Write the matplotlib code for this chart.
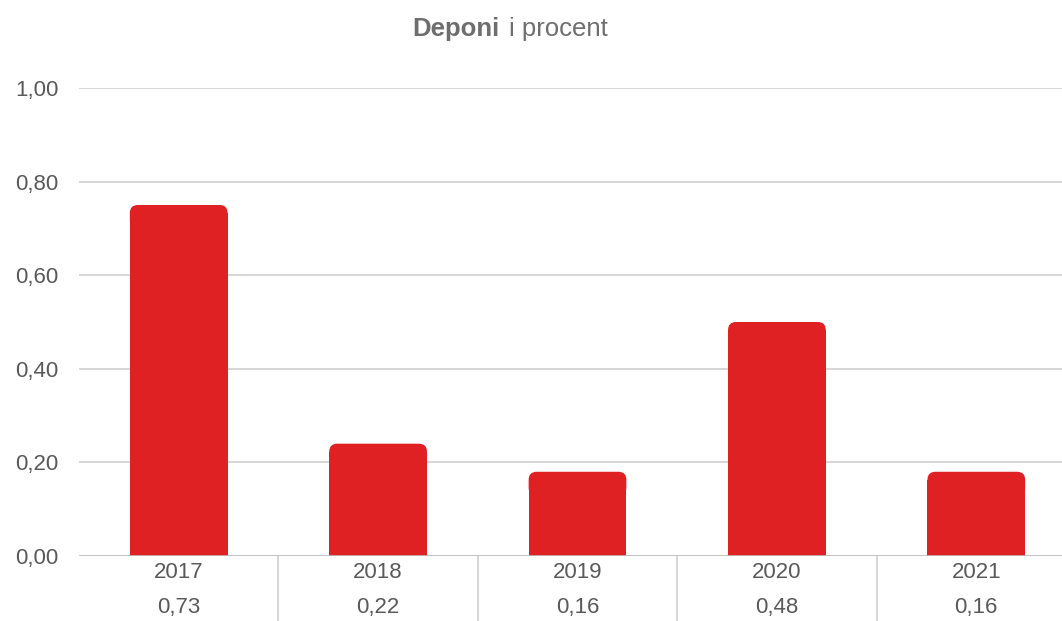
import matplotlib.pyplot as plt
from matplotlib.patches import FancyBboxPatch, Rectangle

years = ["2017", "2018", "2019", "2020", "2021"]
values = [0.73, 0.22, 0.16, 0.48, 0.16]
yticks = [0.0, 0.2, 0.4, 0.6, 0.8, 1.0]

red = "#e02124"
text_col = "#595959"
grid_col = "#d0d0d0"

plt.rcParams["font.family"] = ["Liberation Sans", "DejaVu Sans"]

fig = plt.figure(figsize=(10.62, 6.21), dpi=100)
# plot area runs a bit past the right edge, like the original
ax = fig.add_axes([79 / 1062, 65 / 621, 997 / 1062, 468 / 621])
ax.set_xlim(-0.5, len(years) - 0.5)
ax.set_ylim(0, 1.0)

ax.set_yticks(yticks)
ax.set_yticklabels([f"{t:.2f}".replace(".", ",") for t in yticks])
ax.tick_params(axis="y", length=0, pad=15, labelsize=16, labelcolor=text_col)
ax.set_xticks([])
ax.grid(axis="y", color=grid_col, linewidth=1.2)
ax.set_axisbelow(True)
for s in ax.spines.values():
    s.set_visible(False)

# bars with rounded tops
w = 0.49
cap = 0.02
r = 0.017
for i, v in enumerate(values):
    top = v + cap
    ax.add_patch(Rectangle((i - w / 2, -0.004), w, top - r + 0.004, color=red, lw=0, zorder=3))
    ax.add_patch(FancyBboxPatch((i - w / 2, top - 3 * r), w, 3 * r,
                                boxstyle="round,pad=0,rounding_size=0.04",
                                mutation_aspect=r / 0.04, color=red, lw=0, zorder=3))

# zero line
ax.axhline(0, color="#bfbfbf", lw=1.2, zorder=4)

# data table under the axis
for i, (yr, v) in enumerate(zip(years, values)):
    ax.text(i, -17 / 468, yr, ha="center", va="center", fontsize=16, color=text_col,
            clip_on=False)
    ax.text(i, -51 / 468, f"{v:.2f}".replace(".", ","), ha="center", va="center",
            fontsize=16, color=text_col, clip_on=False)
for i in range(len(years) - 1):
    ax.plot([i + 0.5, i + 0.5], [0, -0.2], color=grid_col, lw=1.2, clip_on=False)

# title: bold first word, rest normal
fig.text(500 / 1062, 1 - 36 / 621, "Deponi", ha="right", va="baseline",
         fontsize=18.5, fontweight="bold", color="#6e6e6e")
fig.text(509 / 1062, 1 - 36 / 621, "i procent", ha="left", va="baseline",
         fontsize=18.5, color="#6e6e6e")

fig.savefig("out.png", dpi=100)
